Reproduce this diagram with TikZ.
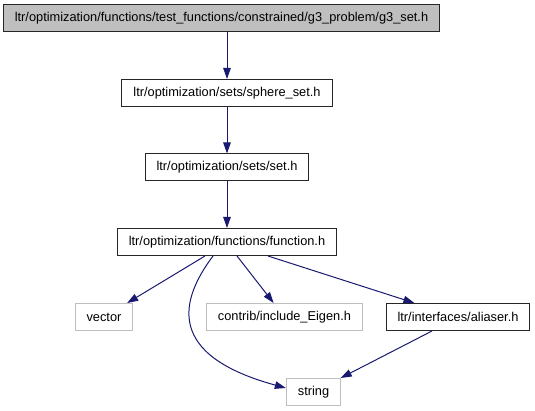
\documentclass[tikz,border=0pt]{standalone}
\usepackage{fontspec}
\setmainfont{Liberation Sans}
\usepackage{xcolor}
\usepackage{tikz}
\usetikzlibrary{positioning,arrows.meta,calc}

\definecolor{edgeblue}{RGB}{25,25,112}
\definecolor{boxgray}{RGB}{191,191,191}

\begin{document}
\begin{tikzpicture}[x=1pt, y=-1pt,
    file/.style={draw=black!85, line width=1pt, minimum height=27pt, inner xsep=11.5pt,
                 font=\fontsize{12.8}{14}\selectfont},
    root/.style={file, fill=boxgray},
    missing/.style={file, draw=boxgray},
    edge/.style={->, edgeblue, line width=1pt},
    >={Triangle[length=11pt, width=7.5pt]}]
    \useasboundingbox (0,0) rectangle (535,411);

    \node[root]    (g3set)    at (221.5,18)  {ltr/optimization/functions/test\_functions/constrained/g3\_problem/g3\_set.h};
    \node[file]    (sphere)   at (227,93)    {ltr/optimization/sets/sphere\_set.h};
    \node[file]    (set)      at (227,167.5) {ltr/optimization/sets/set.h};
    \node[file]    (function) at (227,242)   {ltr/optimization/functions/function.h};
    \node[missing] (vector)   at (104,317)   {vector};
    \node[missing] (contrib)  at (284.5,317) {contrib/include\_Eigen.h};
    \node[file]    (aliaser)  at (458,317)   {ltr/interfaces/aliaser.h};
    \node[missing] (string)   at (313.5,392) {string};

    \draw[edge] (sphere.north |- g3set.south) -- (sphere);
    \draw[edge] (sphere) -- (set);
    \draw[edge] (set) -- (function);

    \foreach \dx/\target in {-22/vector, 10/contrib, 41/aliaser}
        \draw[edge] ([xshift=\dx pt]function.south) -- (\target);

    \draw[edge] ([xshift=-14pt]function.south) .. controls (180,300) and (165,355) .. ([yshift=4pt]string.west);
    \draw[edge] ([xshift=-26pt]aliaser.south) -- (string);
\end{tikzpicture}
\end{document}
